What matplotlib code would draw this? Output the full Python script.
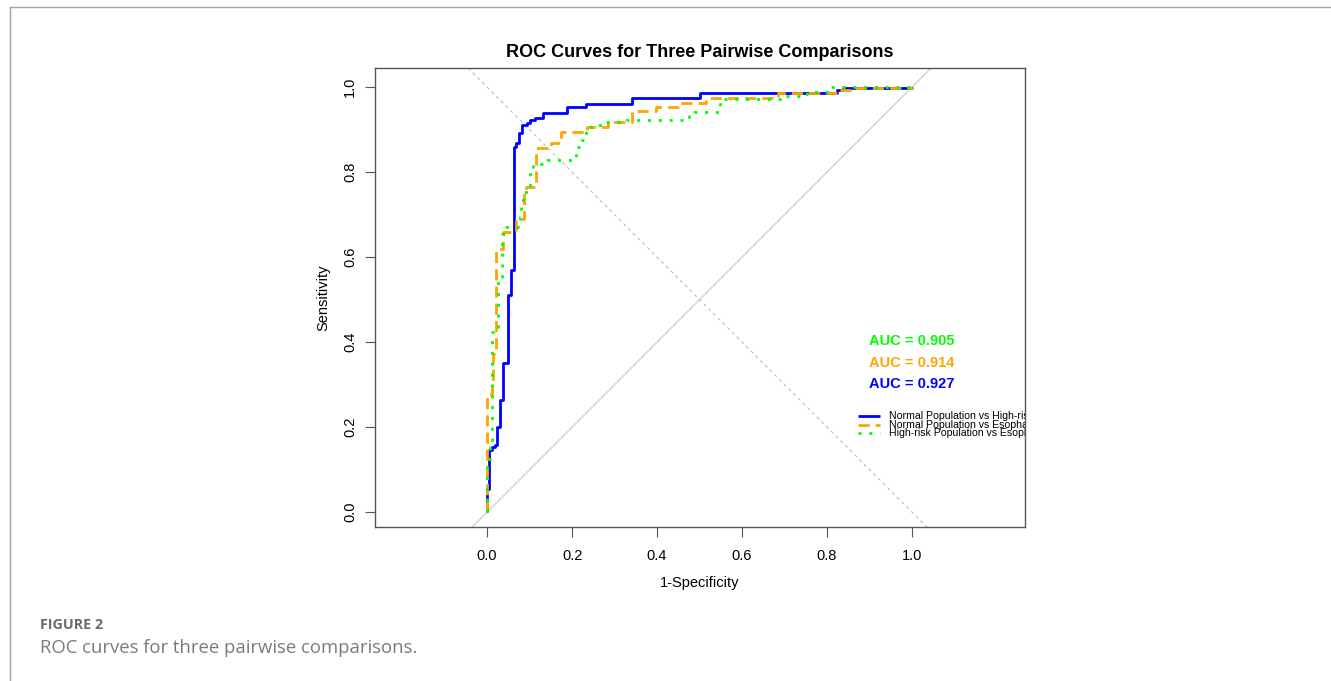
import matplotlib
matplotlib.use('Agg')
import matplotlib.pyplot as plt
from matplotlib.lines import Line2D

plt.rcParams['font.family'] = ['Liberation Sans', 'DejaVu Sans']

# ─── Data (ROC operating points) ─────────────────────────────────────────────

fpr_nh = [0, 0, 0.005, 0.011, 0.018, 0.024, 0.030, 0.038, 0.049, 0.056, 0.063,
          0.069, 0.076, 0.082, 0.093, 0.100, 0.112, 0.132, 0.187, 0.232, 0.341,
          0.501, 0.823, 0.838, 1.0]
tpr_nh = [0, 0.055, 0.147, 0.153, 0.159, 0.200, 0.263, 0.350, 0.510, 0.570, 0.859,
          0.868, 0.892, 0.910, 0.916, 0.922, 0.928, 0.939, 0.953, 0.961, 0.975,
          0.987, 0.993, 0.997, 1.0]

fpr_ne = [0, 0, 0.011, 0.014, 0.020, 0.022, 0.038, 0.067, 0.086, 0.092, 0.116,
          0.151, 0.173, 0.234, 0.285, 0.342, 0.398, 0.449, 0.515, 0.685, 0.830,
          0.854, 1.0]
tpr_ne = [0, 0.278, 0.298, 0.373, 0.584, 0.620, 0.659, 0.690, 0.753, 0.765, 0.857,
          0.868, 0.894, 0.906, 0.918, 0.945, 0.953, 0.962, 0.975, 0.987, 0.993,
          0.997, 1.0]

fpr_he = [0, 0, 0.006, 0.011, 0.026, 0.034, 0.045, 0.077, 0.080, 0.085, 0.096,
          0.100, 0.108, 0.140, 0.210, 0.224, 0.232, 0.244, 0.280, 0.327, 0.476,
          0.487, 0.548, 0.697, 0.744, 0.752, 0.799, 1.0]
tpr_he = [0, 0.125, 0.153, 0.424, 0.553, 0.655, 0.670, 0.694, 0.718, 0.753, 0.765,
          0.812, 0.820, 0.829, 0.859, 0.875, 0.902, 0.910, 0.918, 0.923, 0.931,
          0.941, 0.973, 0.979, 0.985, 0.989, 1.0, 1.0]

labels = ['Normal Population vs High-risk Population',
          'Normal Population vs Esophageal Cancer',
          'High-risk Population vs Esophageal Cancer']
aucs = [0.927, 0.914, 0.905]
colors = ['#0000FF', '#FFA500', '#00FF00']
styles = [(0, ()), (0, (4, 2.2)), (0, (1.1, 2.8))]

# ─── Figure ──────────────────────────────────────────────────────────────────

fig = plt.figure(figsize=(13.31, 6.81), dpi=100)
fig.patch.set_facecolor('white')
ax = fig.add_axes([0.2817, 0.2261, 0.4884, 0.6740])

ax.set_xlim(-0.264, 1.266)
ax.set_ylim(-0.035, 1.045)

# reference diagonals
ax.axline((0, 0), (1, 1), color='#C8C8C8', lw=0.8, zorder=1)
ax.axline((0, 1), (1, 0), color='#BDBDBD', lw=0.8, ls=(0, (3, 3)), zorder=1)

series = [(fpr_nh, tpr_nh), (fpr_ne, tpr_ne), (fpr_he, tpr_he)]
for i in [0, 1, 2]:
    x, y = series[i]
    ax.plot(x, y, drawstyle='steps-post', color=colors[i], lw=2.0,
            ls=styles[i], zorder=3 + i * 0.1,
            dash_capstyle='butt', solid_capstyle='butt')

# AUC labels
for i, yy in zip([2, 1, 0], [0.402, 0.352, 0.301]):
    ax.text(0.898, yy, f'AUC = {aucs[i]:.3f}', color=colors[i], fontsize=10.5,
            fontweight='bold', ha='left', va='center')

# hand-drawn legend, clipped at the box edge as in the original
for i, yy in enumerate([0.226, 0.206, 0.186]):
    ax.add_line(Line2D([0.873, 0.925], [yy, yy], color=colors[i], lw=2.0,
                       ls=styles[i]))
    ax.text(0.947, yy, labels[i], fontsize=7.6, color='black', ha='left',
            va='center', clip_on=True)

ax.set_xticks([0, 0.2, 0.4, 0.6, 0.8, 1.0])
ax.set_yticks([0, 0.2, 0.4, 0.6, 0.8, 1.0])
ax.set_xticklabels(['0.0', '0.2', '0.4', '0.6', '0.8', '1.0'])
ax.set_yticklabels(['0.0', '0.2', '0.4', '0.6', '0.8', '1.0'],
                   rotation=90, va='center')
ax.tick_params(axis='both', labelsize=10.5, length=7, width=0.8,
               color='#555555')
ax.tick_params(axis='x', pad=9)
ax.tick_params(axis='y', pad=6)
for s in ax.spines.values():
    s.set_color('#555555')
    s.set_linewidth(1.0)

ax.set_xlabel('1-Specificity', fontsize=10.5, labelpad=9)
ax.set_ylabel('Sensitivity', fontsize=10.5, labelpad=9)
ax.set_title('ROC Curves for Three Pairwise Comparisons', fontsize=13,
             fontweight='bold', pad=8)

# page frame and caption
fig.add_artist(Line2D([10 / 1331, 1], [1 - 7 / 681, 1 - 7 / 681],
                      color='#A0A0A0', lw=1.0))
fig.add_artist(Line2D([10 / 1331, 10 / 1331], [0, 1 - 7 / 681],
                      color='#A0A0A0', lw=1.0))
fig.text(40 / 1331, 1 - 625 / 681, 'FIGURE 2', fontsize=10.3, color='#6B6B6B',
         fontweight='bold', family=['Open Sans', 'DejaVu Sans'], va='center')
fig.text(40 / 1331, 1 - 648 / 681, 'ROC curves for three pairwise comparisons.',
         fontsize=13.3, color='#7A7A7A', family=['Open Sans', 'DejaVu Sans'],
         va='center')

plt.savefig('out.png', dpi=100, facecolor='white')
plt.close()
